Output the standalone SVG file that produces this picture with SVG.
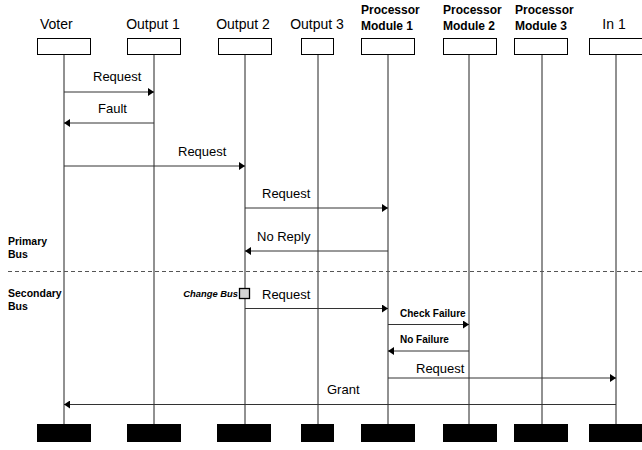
<svg xmlns="http://www.w3.org/2000/svg" width="642" height="450" viewBox="0 0 642 450">
<style>
text{font-family:"Liberation Sans",Arial,sans-serif;fill:#000}
.hdr{font-size:14px}
.phdr{font-size:12px;font-weight:bold}
.box{fill:#fff;stroke:#000;stroke-width:1}
.foot{fill:#000}
.life{stroke:#222;stroke-width:1}
.msg{stroke:#333;stroke-width:1;fill:none;marker-end:url(#ah)}
.lbl{font-size:13px}
.sm{font-size:10px;font-weight:bold}
.side{font-size:10.5px;font-weight:bold}
</style>
<defs>
<marker id="ah" viewBox="0 0 6 8" refX="6" refY="4" markerWidth="6" markerHeight="8" markerUnits="userSpaceOnUse" orient="auto">
<path d="M0,0 L6,4 L0,8 Z" fill="#000"/>
</marker>
</defs>
<rect width="642" height="450" fill="#fff"/>
<g id="voter">
<text class="hdr" x="40" y="29">Voter</text>
<line class="life" x1="64" y1="54" x2="64" y2="424" stroke="#777"/>
<rect class="box" x="37.5" y="38.5" width="53" height="16"/>
<rect class="foot" x="37" y="424" width="54" height="18"/>
</g>
<g id="output1">
<text class="hdr" x="153" y="29" text-anchor="middle">Output 1</text>
<line class="life" x1="154" y1="54" x2="154" y2="424"/>
<rect class="box" x="127.5" y="38.5" width="53" height="16"/>
<rect class="foot" x="127" y="424" width="54" height="18"/>
</g>
<g id="output2">
<text class="hdr" x="243" y="29" text-anchor="middle">Output 2</text>
<line class="life" x1="245" y1="54" x2="245" y2="424"/>
<rect class="box" x="218.5" y="38.5" width="53" height="16"/>
<rect class="foot" x="217" y="424" width="54" height="18"/>
</g>
<g id="output3">
<text class="hdr" x="317" y="29" text-anchor="middle">Output 3</text>
<line class="life" x1="318" y1="54" x2="318" y2="424"/>
<rect class="box" x="301.5" y="38.5" width="32" height="16"/>
<rect class="foot" x="301" y="424" width="33" height="18"/>
</g>
<g id="pm1">
<text class="phdr" x="361" y="14">Processor</text>
<text class="phdr" x="361" y="30">Module 1</text>
<line class="life" x1="388" y1="54" x2="388" y2="424"/>
<rect class="box" x="361.5" y="38.5" width="53" height="16"/>
<rect class="foot" x="361" y="424" width="54" height="18"/>
</g>
<g id="pm2">
<text class="phdr" x="443" y="14">Processor</text>
<text class="phdr" x="443" y="30">Module 2</text>
<line class="life" x1="469" y1="54" x2="469" y2="424"/>
<rect class="box" x="443.5" y="38.5" width="53" height="16"/>
<rect class="foot" x="443" y="424" width="54" height="18"/>
</g>
<g id="pm3">
<text class="phdr" x="515" y="14">Processor</text>
<text class="phdr" x="515" y="30">Module 3</text>
<line class="life" x1="542" y1="54" x2="542" y2="424"/>
<rect class="box" x="514.5" y="38.5" width="53" height="16"/>
<rect class="foot" x="514" y="424" width="54" height="18"/>
</g>
<g id="in1">
<text class="hdr" x="614" y="29" text-anchor="middle">In 1</text>
<line class="life" x1="616" y1="54" x2="616" y2="424" stroke="#777"/>
<rect class="box" x="589.5" y="38.5" width="53" height="16"/>
<rect class="foot" x="589" y="424" width="54" height="18"/>
</g>
<g id="bus-labels">
<text class="side" x="8" y="245">Primary</text>
<text class="side" x="8" y="258">Bus</text>
<line x1="8" y1="271.5" x2="642" y2="271.5" stroke="#555" stroke-width="1" stroke-dasharray="4,3"/>
<text class="side" x="8" y="297">Secondary</text>
<text class="side" x="8" y="310">Bus</text>
</g>
<g id="change-bus">
<text x="238" y="297" text-anchor="end" style="font-size:9.4px;font-style:italic;font-weight:bold">Change Bus</text>
<rect x="239.5" y="288.5" width="10" height="10" fill="#d3d3d3" stroke="#000" stroke-width="1.3"/>
</g>
<g id="connectors">
<line class="msg" x1="64" y1="92" x2="154" y2="92"/>
<text class="lbl" x="93" y="81">Request</text>
<line class="msg" x1="154" y1="123" x2="64" y2="123"/>
<text class="lbl" x="98" y="113">Fault</text>
<line class="msg" x1="64" y1="166" x2="245" y2="166"/>
<text class="lbl" x="178" y="156">Request</text>
<line class="msg" x1="245" y1="208" x2="388" y2="208"/>
<text class="lbl" x="262" y="198">Request</text>
<line class="msg" x1="388" y1="251" x2="245" y2="251"/>
<text class="lbl" x="257" y="241">No Reply</text>
<line class="msg" x1="245" y1="308.5" x2="388" y2="308.5"/>
<text class="lbl" x="262" y="299">Request</text>
<line class="msg" x1="388" y1="324.5" x2="469" y2="324.5"/>
<text class="sm" x="400" y="317">Check Failure</text>
<line class="msg" x1="469" y1="351" x2="388" y2="351"/>
<text class="sm" x="400" y="343">No Failure</text>
<line class="msg" x1="388" y1="378" x2="616" y2="378"/>
<text class="lbl" x="416" y="373">Request</text>
<line class="msg" x1="616" y1="404.5" x2="64" y2="404.5"/>
<text class="lbl" x="327" y="394">Grant</text>
</g>
</svg>
